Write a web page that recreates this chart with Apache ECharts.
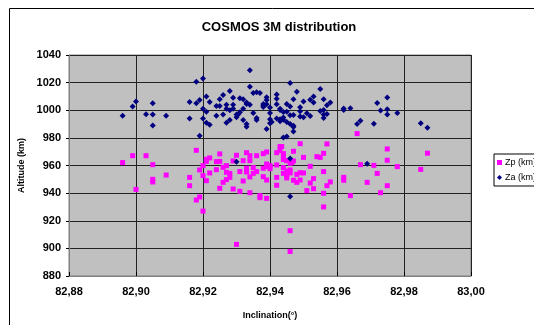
<!DOCTYPE html>
<html>
<head>
<meta charset="utf-8">
<script src="https://cdn.jsdelivr.net/npm/echarts@6/dist/echarts.min.js"></script>
<style>
  html, body { margin: 0; padding: 0; background: #fff; }
  #chart { width: 534px; height: 325px; }
</style>
</head>
<body>
<div id="chart"></div>
<script>
(function () {
  "use strict";

  // Zp (km): [inclination, altitude]
  var zpPoints = [
    [82.896, 962.1], [82.899, 967.1], [82.900, 942.7], [82.903, 967.1], [82.905, 948.1], [82.905, 960.6],
    [82.905, 950.0], [82.909, 953.1], [82.916, 945.4], [82.916, 951.4], [82.918, 971.0], [82.918, 935.0],
    [82.919, 937.2], [82.919, 956.8], [82.920, 927.0], [82.920, 952.7], [82.920, 959.9], [82.921, 963.0],
    [82.921, 949.0], [82.921, 964.5], [82.922, 965.5], [82.922, 954.6], [82.924, 957.0], [82.924, 962.8],
    [82.925, 943.5], [82.925, 963.0], [82.925, 968.4], [82.926, 947.8], [82.926, 958.7], [82.927, 959.9],
    [82.927, 949.8], [82.927, 955.1], [82.928, 951.4], [82.928, 954.3], [82.929, 943.0], [82.929, 963.3],
    [82.930, 902.9], [82.930, 967.4], [82.931, 955.6], [82.931, 941.3], [82.932, 948.8], [82.932, 963.5],
    [82.933, 958.0], [82.933, 955.3], [82.933, 969.3], [82.934, 967.1], [82.934, 963.5], [82.934, 940.3],
    [82.934, 951.7], [82.935, 958.5], [82.935, 954.3], [82.936, 955.6], [82.936, 967.1], [82.937, 938.2],
    [82.937, 936.7], [82.938, 951.9], [82.938, 958.0], [82.938, 968.6], [82.939, 936.2], [82.939, 969.8],
    [82.939, 961.1], [82.939, 959.2], [82.939, 949.5], [82.940, 957.7], [82.940, 959.9], [82.940, 959.2],
    [82.942, 945.7], [82.942, 969.3], [82.942, 960.4], [82.942, 951.4], [82.943, 970.8], [82.943, 973.7],
    [82.9435, 973.7], [82.944, 966.4], [82.944, 968.6], [82.944, 958.5], [82.944, 964.3], [82.944, 954.3],
    [82.945, 953.1], [82.945, 956.0], [82.945, 963.5], [82.945, 951.0], [82.946, 954.6], [82.946, 912.8],
    [82.946, 956.8], [82.946, 897.8], [82.946, 961.6], [82.9465, 962.1], [82.947, 963.3], [82.947, 949.3],
    [82.947, 970.3], [82.948, 947.8], [82.949, 975.8], [82.948, 953.6], [82.949, 949.5], [82.949, 954.8],
    [82.950, 954.6], [82.950, 965.9], [82.951, 941.8], [82.952, 959.4], [82.952, 947.3], [82.953, 943.2],
    [82.953, 950.5], [82.954, 966.4], [82.955, 965.9], [82.956, 939.9], [82.956, 930.0], [82.956, 955.6],
    [82.956, 968.8], [82.957, 975.6], [82.957, 945.4], [82.958, 948.1], [82.962, 951.4], [82.962, 949.3],
    [82.964, 938.2], [82.966, 983.1], [82.967, 960.6], [82.969, 947.8], [82.971, 960.1], [82.972, 954.3],
    [82.973, 940.3], [82.975, 972.0], [82.975, 963.8], [82.975, 945.4], [82.978, 959.2], [82.985, 957.2],
    [82.987, 968.9]
  ];

  // Za (km): [inclination, altitude]
  var zaPoints = [
    [82.896, 996.0], [82.899, 1002.7], [82.900, 1006.3], [82.903, 997.1], [82.905, 1005.0], [82.905, 997.0],
    [82.905, 989.0], [82.909, 996.0], [82.916, 994.0], [82.916, 1006.0], [82.918, 1005.0], [82.918, 1020.7],
    [82.919, 1007.5], [82.919, 981.5], [82.920, 1023.0], [82.920, 1001.0], [82.920, 994.0], [82.921, 999.0],
    [82.921, 1010.0], [82.921, 991.0], [82.922, 989.5], [82.922, 1006.0], [82.924, 1003.0], [82.924, 996.0],
    [82.925, 1003.0], [82.925, 1008.0], [82.926, 1011.0], [82.926, 997.0], [82.927, 1004.0], [82.927, 1001.0],
    [82.927, 991.0], [82.928, 1000.0], [82.928, 993.0], [82.928, 1014.0], [82.929, 1004.0], [82.929, 1009.0],
    [82.929, 1001.0], [82.930, 997.0], [82.9305, 997.0], [82.930, 995.0], [82.931, 998.5], [82.931, 1008.6],
    [82.932, 1001.0], [82.932, 993.0], [82.932, 1008.0], [82.933, 1005.6], [82.933, 988.0], [82.933, 1004.6],
    [82.933, 990.0], [82.934, 1004.0], [82.934, 1029.0], [82.934, 1017.0], [82.935, 1012.5], [82.935, 998.0],
    [82.936, 994.4], [82.936, 993.0], [82.936, 1013.0], [82.937, 1012.5], [82.938, 1004.6], [82.938, 1003.4],
    [82.938, 1002.4], [82.939, 986.5], [82.939, 1007.5], [82.939, 1009.5], [82.939, 1004.3], [82.940, 1002.0],
    [82.940, 998.0], [82.940, 993.5], [82.940, 990.6], [82.9405, 991.5], [82.942, 1008.4], [82.942, 1004.3],
    [82.942, 1011.4], [82.942, 994.0], [82.943, 1001.0], [82.943, 993.5], [82.943, 1000.2], [82.943, 992.0],
    [82.944, 980.3], [82.944, 998.8], [82.944, 993.2], [82.944, 994.7], [82.945, 991.5], [82.945, 1004.6],
    [82.945, 999.0], [82.945, 981.0], [82.946, 1019.7], [82.946, 1002.7], [82.946, 990.0], [82.946, 996.4],
    [82.947, 988.8], [82.947, 987.8], [82.947, 984.6], [82.947, 996.6], [82.947, 1008.0], [82.948, 1013.4],
    [82.949, 995.4], [82.949, 999.3], [82.949, 1002.2], [82.950, 1006.4], [82.950, 995.0], [82.951, 997.9],
    [82.952, 1007.6], [82.952, 995.9], [82.953, 1010.0], [82.953, 1005.6], [82.955, 999.5], [82.955, 1015.4],
    [82.956, 1008.0], [82.956, 1000.2], [82.956, 994.4], [82.956, 997.0], [82.957, 1003.6], [82.957, 997.3],
    [82.958, 1005.6], [82.962, 1001.2], [82.962, 1000.2], [82.964, 1001.4], [82.966, 990.0], [82.967, 992.4],
    [82.971, 990.2], [82.972, 1005.2], [82.973, 999.8], [82.975, 997.0], [82.975, 1009.3], [82.975, 1000.7],
    [82.978, 998.0], [82.985, 990.5], [82.987, 987.3], [82.930, 962.7], [82.946, 965.0], [82.946, 937.6],
    [82.969, 961.3]
  ];

  var xRange = [82.88, 83.00];
  var yRange = [880, 1040];
  var seriesNames = ["Zp (km)", "Za (km)"];

  var FONT = "Liberation Sans, Arial, sans-serif";

  var chart = echarts.init(document.getElementById("chart"), null, { renderer: "canvas" });

  chart.setOption({
    animation: false,
    backgroundColor: "#fff",
    textStyle: { fontFamily: FONT },
    title: {
      text: "COSMOS 3M distribution",
      left: 274, top: 16, textAlign: "center",
      textStyle: { fontSize: 13, fontWeight: "bold", color: "#000", fontFamily: FONT }
    },
    graphic: [{
      type: "rect", left: 7, top: 6, z: -1,
      shape: { width: 540, height: 330 },
      style: { fill: "none", stroke: "#000", lineWidth: 1 }
    }],
    legend: {
      orient: "vertical",
      left: 494, top: 154,
      itemWidth: 5, itemHeight: 5, itemGap: 6,
      padding: [4, 4, 4, 3],
      borderColor: "#000", borderWidth: 1, backgroundColor: "#fff",
      textStyle: { fontSize: 9, color: "#000", fontFamily: FONT, padding: [0, 0, 0, -2] },
      data: [
        { name: seriesNames[0], icon: "rect" },
        { name: seriesNames[1], icon: "diamond" }
      ]
    },
    grid: {
      left: 69, top: 55, width: 402, height: 221,
      show: true, backgroundColor: "#c0c0c0", borderColor: "#808080", borderWidth: 1
    },
    xAxis: {
      type: "value", min: xRange[0], max: xRange[1], interval: 0.02,
      name: "Inclination(°)", nameLocation: "middle", nameGap: 35,
      nameTextStyle: { fontSize: 9, fontWeight: "bold", color: "#000", fontFamily: FONT },
      axisLine: { show: true, lineStyle: { color: "#808080" } },
      axisTick: { show: true, length: 4, inside: true, lineStyle: { color: "#000" } },
      axisLabel: {
        fontSize: 11, fontWeight: "bold", color: "#000", margin: 10, fontFamily: FONT,
        formatter: function (v) { return v.toFixed(2).replace(".", ","); }
      },
      splitLine: { show: true, lineStyle: { color: "#222", width: 1 } }
    },
    yAxis: {
      type: "value", min: yRange[0], max: yRange[1], interval: 20,
      name: "Altitude (km)", nameLocation: "middle", nameGap: 42, nameRotate: 90,
      nameTextStyle: { fontSize: 9, fontWeight: "bold", color: "#000", fontFamily: FONT },
      axisLine: { show: true, lineStyle: { color: "#808080" } },
      axisTick: { show: true, length: 3, lineStyle: { color: "#000" } },
      axisLabel: {
        fontSize: 11, fontWeight: "bold", color: "#000", margin: 8, fontFamily: FONT,
        formatter: function (v) { return String(v); }
      },
      splitLine: { show: true, lineStyle: { color: "#222", width: 1 } }
    },
    series: [
      {
        name: seriesNames[0], type: "scatter", data: zpPoints,
        symbol: "rect", symbolSize: 5,
        itemStyle: { color: "#ff00ff", opacity: 1 }
      },
      {
        name: seriesNames[1], type: "scatter", data: zaPoints,
        symbol: "diamond", symbolSize: 6,
        itemStyle: { color: "#000080", opacity: 1 }
      }
    ]
  });
})();
</script>
</body>
</html>
